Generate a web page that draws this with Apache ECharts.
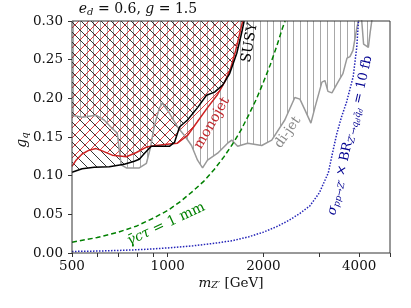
<!DOCTYPE html>
<html><head><meta charset="utf-8">
<script src="https://cdn.jsdelivr.net/npm/echarts@6/dist/echarts.min.js"></script>
<style>html,body{margin:0;padding:0;background:#fff}#c{width:411px;height:308px}</style>
</head><body><div id="c"></div>
<script>
// ---------------- data ----------------
const xTickLabels = [500, 1000, 2000, 4000];
const xTicks = [500, 600, 700, 800, 900, 1000, 2000, 3000, 4000, 5000];
const yTicks = [0, 0.05, 0.10, 0.15, 0.20, 0.25, 0.30];

const dijetMass = [500, 538, 596, 631, 669, 694, 704, 714, 741, 814, 857, 882, 908, 941, 962, 1012, 1073, 1129, 1188, 1241, 1287, 1334, 1435, 1543, 1589, 1659, 1784, 1975, 2124, 2334, 2510, 2604, 2700, 2820, 2903, 3054, 3121, 3190, 3284, 3430, 3556, 3662, 3742, 3824, 3936, 3981, 4030, 4075, 4130, 4175, 4275, 4330, 4382, 4420];
const dijetG    = [0.178, 0.1755, 0.178, 0.172, 0.161, 0.155, 0.133, 0.114, 0.110, 0.110, 0.116, 0.136, 0.165, 0.187, 0.194, 0.181, 0.163, 0.152, 0.139, 0.120, 0.110, 0.120, 0.129, 0.142, 0.146, 0.138, 0.142, 0.139, 0.146, 0.172, 0.201, 0.199, 0.185, 0.168, 0.188, 0.221, 0.223, 0.209, 0.207, 0.221, 0.232, 0.252, 0.254, 0.262, 0.292, 0.300, 0.310, 0.300, 0.270, 0.268, 0.266, 0.285, 0.300, 0.320];

const monojetMass = [500, 515, 538, 566, 595, 622, 669, 741, 797, 857, 921, 1012, 1073, 1154, 1241, 1334, 1435, 1510, 1577, 1636, 1684, 1721];
const monojetG    = [0.112, 0.120, 0.128, 0.133, 0.135, 0.132, 0.1265, 0.1245, 0.130, 0.137, 0.139, 0.141, 0.142, 0.152, 0.170, 0.188, 0.205, 0.221, 0.239, 0.262, 0.284, 0.300];

const susyMass = [500, 538, 587, 655, 730, 785, 814, 850, 888, 976, 1012, 1050, 1089, 1154, 1241, 1324, 1404, 1488, 1566, 1648, 1707, 1739];
const susyG    = [0.1045, 0.109, 0.111, 0.1116, 0.1148, 0.1187, 0.1213, 0.130, 0.138, 0.138, 0.138, 0.143, 0.163, 0.172, 0.188, 0.204, 0.208, 0.217, 0.232, 0.258, 0.284, 0.300];

const decayMass = [500, 600, 700, 800, 900, 1000, 1100, 1200, 1300, 1400, 1500, 1600, 1700, 1800, 1900, 2000, 2100, 2200, 2300, 2340];
const decayG    = [0.014, 0.020, 0.027, 0.035, 0.045, 0.055, 0.067, 0.080, 0.093, 0.108, 0.124, 0.141, 0.159, 0.179, 0.199, 0.221, 0.243, 0.267, 0.292, 0.300];

const xsecMass = [500, 600, 700, 800, 900, 1000, 1200, 1400, 1600, 1800, 2000, 2200, 2400, 2600, 2800, 3000, 3200, 3300, 3400, 3520, 3650, 3830, 3930, 3980];
const xsecG    = [0.0020, 0.0025, 0.0033, 0.0042, 0.0053, 0.0066, 0.0093, 0.0125, 0.016, 0.021, 0.027, 0.034, 0.042, 0.051, 0.061, 0.078, 0.104, 0.130, 0.154, 0.176, 0.195, 0.228, 0.266, 0.300];

// ---------------- layout / style ----------------
const GRID = {left: 72, top: 21, width: 318, height: 232};
const SERIF = 'DejaVu Serif';
const zip = (a, b) => a.map((v, i) => [v, b[i]]);

// Hatching of the excluded region above a boundary curve (drawn through the axes' scales)
function hatchRenderer(massArr, gArr, kind, spacing, color, lw) {
  return function (params, api) {
    const cs = params.coordSys;
    const left = cs.x, top = cs.y, right = cs.x + cs.width, bottom = cs.y + cs.height;
    const pts = massArr.map((m, i) => api.coord([m, gArr[i]]));
    const x0 = Math.max(left, pts[0][0]), x1 = Math.min(right, pts[pts.length - 1][0]);
    const yb = x => {
      for (let i = 1; i < pts.length; i++) {
        if (x <= pts[i][0]) {
          const a = pts[i - 1], b = pts[i];
          const t = (x - a[0]) / ((b[0] - a[0]) || 1);
          return a[1] + t * (b[1] - a[1]);
        }
      }
      return pts[pts.length - 1][1];
    };
    const children = [];
    const push = (ax, ay, bx, by) => children.push({type: 'line', shape: {x1: ax, y1: ay, x2: bx, y2: by},
      style: {stroke: color, lineWidth: lw}});
    if (kind === 'v') {
      for (let k = Math.ceil(x0 / spacing); k * spacing <= x1; k++) {
        const x = Math.round(k * spacing) + 0.5;
        if (x < x0 || x > x1) continue;
        const yy = Math.min(bottom, yb(x));
        if (yy > top) push(x, top, x, yy);
      }
    } else {
      const s = kind === 'ne' ? -1 : 1;          // y = c + s*x
      const cA = s < 0 ? left + top : top - right, cB = s < 0 ? right + bottom : bottom - left;
      const step = 0.25;
      for (let k = Math.floor(cA / spacing); k * spacing <= cB; k++) {
        const c = k * spacing;
        let runStart = null, prevX = null;
        for (let x = x0; x <= x1 + 1e-9; x += step) {
          const y = c + s * x;
          const ins = y >= top && y <= bottom && y < yb(x);
          if (ins && runStart === null) runStart = x;
          if (!ins && runStart !== null) { push(runStart, c + s * runStart, prevX, c + s * prevX); runStart = null; }
          prevX = x;
        }
        if (runStart !== null) push(runStart, c + s * runStart, prevX, c + s * prevX);
      }
    }
    return {type: 'group', children};
  };
}

const chart = echarts.init(document.getElementById('c'), null, {renderer: 'canvas'});

const lineSeries = (name, xs, ys, style, z) => ({type: 'line', name, xAxisIndex: 0, yAxisIndex: 0, data: zip(xs, ys),
  symbol: 'none', clip: true, lineStyle: style, z, silent: true});
const hatchSeries = (name, xs, ys, kind, spacing, color, lw, z) => ({type: 'custom', name, xAxisIndex: 0, yAxisIndex: 0,
  data: [[xs[0], ys[0]]], clip: true, silent: true, z, renderItem: hatchRenderer(xs, ys, kind, spacing, color, lw)});

const option = {
  animation: false,
  backgroundColor: '#fff',
  grid: {left: GRID.left, top: GRID.top, width: GRID.width, height: GRID.height, show: false},
  xAxis: [
    {type: 'log', logBase: 10, min: 500, max: 5000,
     axisLine: {show: false}, axisTick: {show: false}, axisLabel: {show: false}, splitLine: {show: false}},
    {type: 'value', position: 'bottom', min: Math.log10(500), max: Math.log10(5000),
     axisLine: {show: false}, splitLine: {show: false},
     axisTick: {show: true, length: 4, customValues: xTicks.map(Math.log10), lineStyle: {color: '#333'}},
     axisLabel: {customValues: xTickLabels.map(Math.log10), formatter: v => String(Math.round(Math.pow(10, v))),
                 fontFamily: SERIF, fontSize: 13.5, color: '#111', margin: 6}}
  ],
  yAxis: [{
    type: 'value', min: 0, max: 0.3, interval: 0.05,
    axisLine: {show: false}, splitLine: {show: false},
    axisTick: {show: true, length: 4, customValues: yTicks, lineStyle: {color: '#333'}},
    axisLabel: {customValues: yTicks, formatter: v => v.toFixed(2), fontFamily: SERIF, fontSize: 13.5, color: '#111', margin: 9}
  }],
  series: [
    hatchSeries('dijet hatch', dijetMass, dijetG, 'v', 6.67, '#a8a8a8', 1, 1),
    hatchSeries('susy hatch', susyMass, susyG, 'nw', 10, '#111', 0.85, 2),
    hatchSeries('monojet hatch', monojetMass, monojetG, 'ne', 10, '#dd2828', 0.9, 3),
    lineSeries('dijet', dijetMass, dijetG, {color: '#999', width: 1.5}, 4),
    lineSeries('monojet', monojetMass, monojetG, {color: '#cc2222', width: 1.5}, 5),
    lineSeries('susy', susyMass, susyG, {color: '#000', width: 1.5}, 6),
    lineSeries('decay', decayMass, decayG, {color: '#008000', width: 1.5, type: [5, 3]}, 7),
    lineSeries('xsec', xsecMass, xsecG, {color: '#2424b8', width: 1.5, type: [1.5, 1.5]}, 7)
  ]
};
chart.setOption(option);

// ---------------- text annotations ----------------
const mctx = document.createElement('canvas').getContext('2d');
function mathGroup(parts, x, y, rotDeg, color) {
  let cx = 0;
  const items = parts.map(p => {
    mctx.font = (p.it ? 'italic ' : '') + p.sz + 'px "' + SERIF + '"';
    const w = mctx.measureText(p.t).width;
    const it = {p, x: cx};
    cx += w;
    return it;
  });
  const W = cx;
  return {
    type: 'group', x, y, rotation: rotDeg * Math.PI / 180, z: 100,
    children: items.map(it => ({
      type: 'text', x: it.x - W / 2, y: it.p.dy || 0, z: 100,
      style: {text: it.p.t, fontFamily: SERIF, fontSize: it.p.sz, fontStyle: it.p.it ? 'italic' : 'normal',
              fill: color, align: 'left', verticalAlign: 'middle'}
    }))
  };
}
const P = (m, g) => chart.convertToPixel({xAxisIndex: 0, yAxisIndex: 0}, [m, g]);

const greenParts = [{t: 'γ\u0304cτ', it: 1, sz: 14}, {t: ' = 1 mm', sz: 14}];
const blueParts = [
  {t: 'σ', it: 1, sz: 13}, {t: 'pp→Z′', it: 1, sz: 9, dy: 3},
  {t: ' × BR', sz: 13}, {t: 'Z′→q', it: 1, sz: 9, dy: 3}, {t: 'd', it: 1, sz: 6.5, dy: 5},
  {t: 'q\u0304', it: 1, sz: 9, dy: 3}, {t: 'd', it: 1, sz: 6.5, dy: 5}, {t: ' = 10 fb', sz: 13}
];
const notes = [
  {parts: [{t: 'SUSY', sz: 14}], at: [1810, 0.272], rot: 80, color: '#000'},
  {parts: [{t: 'monojet', sz: 14}], at: [1378, 0.168], rot: 60, color: '#c0282d'},
  {parts: [{t: 'di-jet', sz: 13.5}], at: [2386, 0.156], rot: 55, color: '#888'},
  {parts: greenParts, at: [988, 0.0374], rot: 25, color: '#008000'},
  {parts: blueParts, at: [3743, 0.152], rot: 77, color: '#000090'}
];

const graphics = notes.map(n => { const p = P(n.at[0], n.at[1]); return mathGroup(n.parts, p[0], p[1], n.rot, n.color); });
graphics.push(mathGroup([{t: 'e', it: 1, sz: 14}, {t: 'd', it: 1, sz: 10, dy: 3}, {t: ' = 0.6, ', sz: 14}, {t: 'g', it: 1, sz: 14}, {t: ' = 1.5', sz: 14}],
  GRID.left + 66, 9, 0, '#111'));
graphics.push(mathGroup([{t: 'm', it: 1, sz: 13.5}, {t: 'Z′', it: 1, sz: 9.5, dy: 3}, {t: ' [GeV]', sz: 13.5}],
  GRID.left + GRID.width / 2, 283, 0, '#111'));
graphics.push(mathGroup([{t: 'g', it: 1, sz: 14}, {t: 'q', it: 1, sz: 10, dy: 3}],
  22, GRID.top + GRID.height / 2 + 3, 90, '#111'));
graphics.push({type: 'rect', z: 90, shape: {x: GRID.left, y: GRID.top, width: GRID.width, height: GRID.height},
  style: {fill: null, stroke: '#333', lineWidth: 1}});

chart.setOption({graphic: graphics});
</script>
</body></html>
